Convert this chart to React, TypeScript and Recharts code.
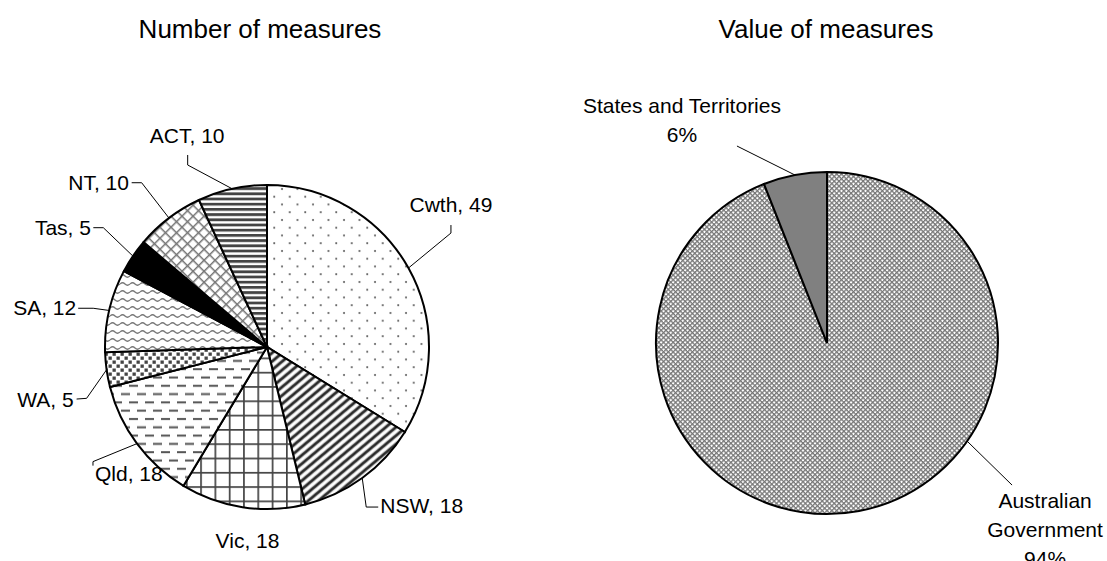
import React from 'react'
import { PieChart, Pie, Cell } from 'recharts'

// Number of measures by jurisdiction
const MEASURE_NAMES = ['Cwth', 'NSW', 'Vic', 'Qld', 'WA', 'SA', 'Tas', 'NT', 'ACT']
const MEASURE_COUNTS = [49, 18, 18, 18, 5, 12, 5, 10, 10]

// Value of measures, per cent
const VALUE_NAMES = ['Australian Government', 'States and Territories']
const VALUE_SHARES = [94, 6]

const FONT = '"Liberation Sans", Arial, Helvetica, sans-serif'
const RAD = Math.PI / 180

const measureData = MEASURE_NAMES.map((name, i) => ({ name, value: MEASURE_COUNTS[i] }))
const valueData = VALUE_NAMES.map((name, i) => ({ name, value: VALUE_SHARES[i] }))

const MEASURE_FILLS = [
  'url(#pDots)',
  'url(#pDiag)',
  'url(#pGrid)',
  'url(#pDash)',
  'url(#pSquares)',
  'url(#pWave)',
  '#000',
  'url(#pHatch)',
  'url(#pHoriz)',
]
const VALUE_FILLS = ['url(#pFine)', '#808080']

// label placement: leader points and text offset, relative to the point on the arc
type Layout = {
  leader: [number, number][]
  text: [number, number]
  anchor: 'start' | 'middle' | 'end'
  angle?: number // leader start, degrees clockwise from 12 o'clock
  wrap?: boolean
}

const MEASURE_LAYOUT: Layout[] = [
  { leader: [[42.5, -35], [42.5, -43]], text: [42.5, -56], anchor: 'middle' },
  { leader: [[4, 29], [16, 29]], text: [18, 35], anchor: 'start' },
  { leader: [], text: [5, 41], anchor: 'middle' },
  { leader: [[-44, 18], [-44, 22]], text: [-42, 37], anchor: 'start' },
  { leader: [[-20, 28.6], [-30, 29.3]], text: [-33, 37], anchor: 'end' },
  { leader: [[-16, -2.2], [-31, -2.2]], text: [-33, 5], anchor: 'end' },
  { leader: [[-29.6, -28.4], [-39.6, -28.4]], text: [-42, -21], anchor: 'end' },
  { leader: [[-27.3, -35.3], [-37.3, -35.3]], text: [-40, -28], anchor: 'end' },
  { leader: [[-44.5, -23.8], [-44.5, -33.8]], text: [-45, -46], anchor: 'middle' },
]

const VALUE_LAYOUT: Layout[] = [
  { leader: [[45, 44]], text: [78, 67], anchor: 'middle', angle: 125, wrap: true },
  { leader: [[-58, -29]], text: [-113, -62], anchor: 'middle' },
]

function makeLabel(layouts: Layout[], fmt: (name: string, value: number, wrap?: boolean) => string[]) {
  return (props: any) => {
    const { cx, cy, midAngle, outerRadius, index, name, value } = props
    const lay = layouts[index]
    const a = lay.angle !== undefined ? 90 - lay.angle : midAngle
    const x0 = cx + outerRadius * Math.cos(-a * RAD)
    const y0 = cy + outerRadius * Math.sin(-a * RAD)
    const pts = [[0, 0], ...lay.leader].map(([dx, dy]) => `${x0 + dx},${y0 + dy}`).join(' ')
    const lines = fmt(name, value, lay.wrap)
    return (
      <g key={`lbl-${index}`}>
        {lay.leader.length > 0 && <polyline points={pts} fill="none" stroke="#000" strokeWidth={1} />}
        <text
          x={x0 + lay.text[0]}
          y={y0 + lay.text[1]}
          textAnchor={lay.anchor}
          fontFamily={FONT}
          fontSize={21}
          fill="#000"
        >
          {lines.map((l, i) => (
            <tspan key={i} x={x0 + lay.text[0]} dy={i === 0 ? 0 : 29}>
              {l}
            </tspan>
          ))}
        </text>
      </g>
    )
  }
}

const measureLabel = makeLabel(MEASURE_LAYOUT, (name, value) => [`${name}, ${value}`])
const valueLabel = makeLabel(VALUE_LAYOUT, (name, value, wrap) =>
  wrap ? [...name.split(' '), `${value}%`] : [name, `${value}%`]
)

function Patterns() {
  return (
    <defs>
      <pattern id="pDots" width="15.5" height="15.5" patternUnits="userSpaceOnUse">
        <rect width="15.5" height="15.5" fill="#fff" />
        <circle cx="3" cy="3" r="1" fill="#555" />
        <circle cx="10.75" cy="10.75" r="1" fill="#555" />
      </pattern>
      <pattern id="pDiag" width="6.5" height="10" patternUnits="userSpaceOnUse" patternTransform="rotate(50)">
        <rect width="6.5" height="10" fill="#fff" />
        <rect x="1.5" width="3.5" height="10" fill="#888" />
        <rect x="2.2" width="2.1" height="10" fill="#222" />
      </pattern>
      <pattern id="pGrid" width="14.3" height="14.3" patternUnits="userSpaceOnUse">
        <rect width="14.3" height="14.3" fill="#fff" />
        <rect width="1.7" height="14.3" fill="#444" />
        <rect width="14.3" height="1.7" fill="#444" />
      </pattern>
      <pattern id="pDash" width="16" height="16.6" patternUnits="userSpaceOnUse">
        <rect width="16" height="16.6" fill="#fff" />
        <rect x="1" y="3" width="9" height="2" fill="#555" />
        <rect x="9" y="11.3" width="7" height="2" fill="#555" />
        <rect x="0" y="11.3" width="2" height="2" fill="#555" />
      </pattern>
      <pattern id="pSquares" width="8" height="8" patternUnits="userSpaceOnUse">
        <rect width="8" height="8" fill="#fff" />
        <rect x="0.5" y="0.5" width="3.3" height="3.3" fill="#444" />
        <rect x="4.5" y="4.5" width="3.3" height="3.3" fill="#444" />
      </pattern>
      <pattern id="pWave" width="10" height="8" patternUnits="userSpaceOnUse">
        <rect width="10" height="8" fill="#fff" />
        <path d="M0 4 Q2.5 1.6 5 4 T10 4" fill="none" stroke="#777" strokeWidth="1.3" />
      </pattern>
      <pattern id="pHatch" width="7.8" height="7.8" patternUnits="userSpaceOnUse" patternTransform="rotate(45)">
        <rect width="7.8" height="7.8" fill="#fff" />
        <rect width="1.5" height="7.8" fill="#777" />
        <rect width="7.8" height="1.5" fill="#777" />
      </pattern>
      <pattern id="pHoriz" width="5" height="5.2" patternUnits="userSpaceOnUse">
        <rect width="5" height="5.2" fill="#fff" />
        <rect width="5" height="2.8" fill="#444" />
      </pattern>
      <pattern id="pFine" width="3.4" height="3.4" patternUnits="userSpaceOnUse" patternTransform="rotate(45)">
        <rect width="3.4" height="3.4" fill="#fff" />
        <rect width="1.3" height="3.4" fill="#777" />
        <rect width="3.4" height="1.3" fill="#777" />
      </pattern>
    </defs>
  )
}

export default function App() {
  return (
    <div style={{ position: 'absolute', left: 0, top: 0, width: 1107, height: 561, background: '#fff' }}>
      <PieChart width={1107} height={561} margin={{ top: 0, right: 0, bottom: 0, left: 0 }}>
        <Patterns />
        <text x={260} y={38} textAnchor="middle" fontFamily={FONT} fontSize={26} fill="#000">
          Number of measures
        </text>
        <text x={826} y={38} textAnchor="middle" fontFamily={FONT} fontSize={26} fill="#000">
          Value of measures
        </text>
        <Pie
          data={measureData}
          dataKey="value"
          nameKey="name"
          cx={267}
          cy={347}
          outerRadius={162}
          startAngle={90}
          endAngle={-270}
          stroke="#000"
          strokeWidth={2}
          labelLine={false}
          label={measureLabel}
          isAnimationActive={false}
        >
          {measureData.map((_, i) => (
            <Cell key={i} fill={MEASURE_FILLS[i]} />
          ))}
        </Pie>
        <Pie
          data={valueData}
          dataKey="value"
          nameKey="name"
          cx={827}
          cy={343}
          outerRadius={171}
          startAngle={90}
          endAngle={-270}
          stroke="#000"
          strokeWidth={2}
          labelLine={false}
          label={valueLabel}
          isAnimationActive={false}
        >
          {valueData.map((_, i) => (
            <Cell key={i} fill={VALUE_FILLS[i]} />
          ))}
        </Pie>
      </PieChart>
    </div>
  )
}
